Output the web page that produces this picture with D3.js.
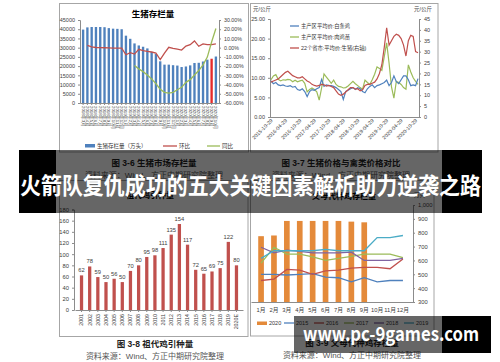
<!doctype html>
<html>
<head>
<meta charset="utf-8">
<style>
  body { margin: 0; background: #fff; }
  svg text { font-family: "Liberation Sans", "Noto Sans CJK SC", sans-serif; }
</style>
<script src="https://d3js.org/d3.v7.min.js"></script>
</head>
<body>
<svg width="500" height="362" id="chart"></svg>
<script>
// ---- 图3-6 生猪存栏量 ----
var stockMonths = ["2018年3月","2018年4月","2018年5月","2018年6月","2018年7月","2018年8月","2018年9月","2018年10月",
  "2018年11月","2018年12月","2019年1月","2019年2月","2019年3月","2019年4月","2019年5月","2019年6月","2019年7月",
  "2019年8月","2019年9月","2019年10月","2019年11月","2019年12月","2020年1月","2020年2月","2020年3月","2020年4月",
  "2020年5月","2020年6月","2020年7月","2020年8月","2020年9月","2020年10月"];
var stockValues = [39800,41000,41200,41200,41200,41100,40600,40300,40200,40000,36500,34800,32300,31200,30500,29600,
  27700,26600,22600,20800,20800,20500,20300,19500,19800,20400,21700,21800,22500,23500,24000,25200];
var stockMoM = [null,2.5,0.8,0.2,0,-0.1,-0.3,-0.4,-0.6,-0.5,-7.7,-5.5,-7,-1.8,-3.3,-4,-4.7,-5.8,-13,-6,0.4,-0.7,
  -1.5,-2.6,1.8,3.3,7.3,1.5,4,3.3,3.3,4];
var stockYoY = [null,null,null,null,null,null,null,null,null,null,null,null,-19.3,-23,-26,-29.6,-34,-39,-45,-48.5,
  -49.3,-48.5,-45.6,-43,-37.6,-34.7,-29.6,-24.8,-18.6,-10.2,6.2,20.8];
var stockTicks = [0,5000,10000,15000,20000,25000,30000,35000,40000,45000];
var pctTicks = [-60,-50,-40,-30,-20,-10,0,10,20,30];

// ---- 图3-7 生猪价格与禽类价格对比 ----
var priceMonths = ["2015-10","2015-11","2015-12",
  "2016-01","2016-02","2016-03","2016-04","2016-05","2016-06","2016-07","2016-08","2016-09","2016-10","2016-11","2016-12",
  "2017-01","2017-02","2017-03","2017-04","2017-05","2017-06","2017-07","2017-08","2017-09","2017-10","2017-11","2017-12",
  "2018-01","2018-02","2018-03","2018-04","2018-05","2018-06","2018-07","2018-08","2018-09","2018-10","2018-11","2018-12",
  "2019-01","2019-02","2019-03","2019-04","2019-05","2019-06","2019-07","2019-08","2019-09","2019-10","2019-11","2019-12",
  "2020-01","2020-02","2020-03","2020-04","2020-05","2020-06","2020-07","2020-08","2020-09","2020-10","2020-11"];
var chickenPrice = [9.2,8.5,8.8,8.2,8.0,8.2,7.9,7.8,8.0,7.6,7.8,7.0,6.8,7.2,6.5,5.2,6.5,7.0,6.8,7.2,7.5,9.6,7.8,8.2,
  8.0,8.0,7.8,7.5,7.0,6.5,4.5,6.5,6.8,7.2,7.5,7.0,7.5,7.2,6.5,6.2,7.2,7.8,8.2,7.5,8.0,8.2,8.5,8.8,9.4,8.0,8.8,10.5,
  9.0,8.5,9.5,10.5,10.5,9.5,8.0,8.2,8.0,9.8];
var chickPrice = [9.5,10.5,10.8,9.6,9.2,9.5,9.4,9.6,9.5,9.0,9.4,9.0,9.2,9.4,8.6,6.4,7.0,7.4,7.0,6.4,4.3,7.4,11.0,10.2,
  9.4,8.6,9.4,8.3,7.8,7.7,7.4,7.5,7.9,8.5,9.1,8.5,8.0,7.5,7.1,9.4,8.8,8.3,9.5,10.9,12.8,12.4,11.9,15.4,18.9,13.7,
  7.7,4.8,9.1,8.8,8.3,7.5,7.1,13.3,11.5,10.0,9.1,8.3];
var hogPrice = [16,16.5,17,17.5,18.5,19.5,20.5,21,20,19,18.5,18,18,18.5,17.5,16.5,16,15,14.5,14.2,14.5,15,14.8,14.2,
  14.5,14,13.5,12,10.5,10,10.5,11.5,12.5,13.5,13.5,12.8,13,12,12.5,14.5,15,15,15.5,16,17.5,20,24,32,41,33,35,37,38,
  37.5,36,33,28,35,37.5,37,30,29.5];
var priceTicks = ["2015-10-29","2016-04-29","2016-10-29","2017-04-29","2017-10-29","2018-04-29","2018-10-29",
  "2019-04-29","2019-10-29","2020-04-29","2020-10-29"];
var leftPriceTicks = [0,5,10,15,20,25];
var rightPriceTicks = [0,5,10,15,20,25,30,35,40,45];
var priceSeries = ["主产区平均价:白条鸡","主产区平均价:肉鸡苗","22个省市:平均价:生猪(右轴)"];

// ---- 图3-8 祖代鸡引种量 ----
var gpYears = ["2001","2002","2003","2004","2005","2006","2007","2008","2009","2010","2011","2012","2013","2014",
  "2015","2016","2017","2018","2019","2020E"];
var gpValues = [62,78,59,50,56,50,70,80,95,98,111,135,154,117,72,65,69,75,122,80];
var gpTicks = [0,20,40,60,80,100,120,140,160,180];

// ---- 图3-9 父母代种鸡存栏量 ----
var months = ["1月","2月","3月","4月","5月","6月","7月","8月","9月","10月","11月","12月"];
var stock2020 = [775,780,885,885,885,885,885,880,875];
var stock2015 = [500,500,495,500,505,480,475,445,475,445,455,455];
var stock2016 = [455,465,535,530,500,525,530,545,550,550,540,610];
var stock2017 = [580,695,645,645,625,600,615,630,645,645,645,620];
var stock2018 = [695,655,675,665,655,655,655,660,600,600,600,615];
var stock2019 = [615,670,670,670,670,680,670,670,670,765,765,780];
var parentTicks = [300,400,500,600,700,800,900,1000];

var blue = "#4f81bd", red = "#c0504d", green = "#9bbb59", purple = "#8064a2", teal = "#4bacc6", orange = "#e48a3a";
var svg = d3.select("#chart");
svg.append("rect").attr("width", 500).attr("height", 362).attr("fill", "#fff");

function styleAxis(a, fs) {
  a.attr("font-size", fs).attr("font-family", "Liberation Sans, Noto Sans CJK SC");
  a.select(".domain").attr("stroke", "#8c8c8c");
  a.selectAll(".tick line").attr("stroke", "#8c8c8c");
  a.selectAll(".tick text").attr("fill", "#404040");
}

function caption(x, y, title) {
  svg.append("text").attr("x", x).attr("y", y).attr("text-anchor", "middle")
    .attr("font-size", "8.5px").attr("font-weight", "bold").attr("fill", "#222").text(title);
  svg.append("text").attr("x", x).attr("y", y + 12).attr("text-anchor", "middle")
    .attr("font-size", "8px").attr("fill", "#555").text("资料来源：Wind、方正中期研究院整理");
}

// ================= chart 1 =================
var g1 = svg.append("g");
g1.append("rect").attr("x", 59.5).attr("y", 3.5).attr("width", 189).attr("height", 148.5)
  .attr("fill", "#fff").attr("stroke", "#a6a6a6");
g1.append("text").attr("x", 153).attr("y", 17).attr("text-anchor", "middle")
  .attr("font-size", "8.5px").attr("font-weight", "bold").text("生猪存栏量");

var x1 = d3.scaleBand().domain(stockMonths).range([80, 219]).padding(0.45);
var y1 = d3.scaleLinear().domain([0, 45000]).range([103, 20]);
var y1r = d3.scaleLinear().domain([-60, 30]).range([103, 20]);

g1.append("g").attr("transform", "translate(80,0)")
  .call(d3.axisLeft(y1).tickValues(stockTicks).tickSize(2).tickFormat(d3.format("d")))
  .call(styleAxis, 5.5);
g1.append("g").attr("transform", "translate(219,0)")
  .call(d3.axisRight(y1r).tickValues(pctTicks).tickSize(2).tickFormat(function(d) { return d.toFixed(2) + "%"; }))
  .call(styleAxis, 5.3);
var xa1 = g1.append("g").attr("transform", "translate(0,103)")
  .call(d3.axisBottom(x1).tickSize(2).tickSizeOuter(0))
  .call(styleAxis, 4.3);
xa1.selectAll(".tick text").attr("transform", "rotate(90)").attr("text-anchor", "start")
  .attr("x", 3).attr("y", 0).attr("dy", "0.35em");

g1.selectAll(".bar1").data(stockValues).enter().append("rect")
  .attr("x", function(d, i) { return x1(stockMonths[i]); })
  .attr("width", x1.bandwidth())
  .attr("y", function(d) { return y1(d); })
  .attr("height", function(d) { return y1(0) - y1(d); })
  .attr("fill", function(d, i) { return i === 30 ? "#e52b2b" : blue; });

var line1 = d3.line().defined(function(d) { return d !== null; })
  .x(function(d, i) { return x1(stockMonths[i]) + x1.bandwidth() / 2; })
  .y(function(d) { return y1r(d); });
g1.append("path").datum(stockMoM).attr("d", line1).attr("fill", "none").attr("stroke", red).attr("stroke-width", 1.3);
g1.append("path").datum(stockYoY).attr("d", line1).attr("fill", "none").attr("stroke", green).attr("stroke-width", 1.3);

// legend
g1.append("rect").attr("x", 85).attr("y", 144).attr("width", 10).attr("height", 3.5).attr("fill", blue);
g1.append("text").attr("x", 97).attr("y", 148).attr("font-size", "5.5px").attr("fill", "#333").text("生猪存栏量（万头）");
g1.append("line").attr("x1", 163).attr("x2", 177).attr("y1", 146).attr("y2", 146).attr("stroke", red).attr("stroke-width", 1.3);
g1.append("text").attr("x", 179).attr("y", 148).attr("font-size", "5.5px").attr("fill", "#333").text("环比");
g1.append("line").attr("x1", 207).attr("x2", 220).attr("y1", 146).attr("y2", 146).attr("stroke", green).attr("stroke-width", 1.3);
g1.append("text").attr("x", 222).attr("y", 148).attr("font-size", "5.5px").attr("fill", "#333").text("同比");
caption(154, 166, "图 3-6  生猪市场存栏量");

// ================= chart 2 =================
var g2 = svg.append("g");
g2.append("rect").attr("x", 250.5).attr("y", 3.5).attr("width", 187.5).attr("height", 148.5)
  .attr("fill", "#fff").attr("stroke", "#a6a6a6");
var x2 = d3.scaleLinear().domain([0, priceMonths.length - 1]).range([271, 418]);
var y2 = d3.scaleLinear().domain([0, 25]).range([117, 19]);
var y2r = d3.scaleLinear().domain([0, 45]).range([117, 19]);

g2.append("g").attr("transform", "translate(270,0)")
  .call(d3.axisLeft(y2).tickValues(leftPriceTicks).tickSize(2).tickFormat(function(d) { return d.toFixed(2); }))
  .call(styleAxis, 5.5);
g2.append("g").attr("transform", "translate(419,0)")
  .call(d3.axisRight(y2r).tickValues(rightPriceTicks).tickSize(2).tickFormat(d3.format("d")))
  .call(styleAxis, 5.5);
g2.append("line").attr("x1", 270).attr("x2", 419).attr("y1", 117.5).attr("y2", 117.5).attr("stroke", "#8c8c8c");
g2.selectAll(".xl2").data(priceTicks).enter().append("text")
  .attr("transform", function(d, i) { return "translate(" + (x2(i * 6) + 2) + ",121) rotate(-45)"; })
  .attr("text-anchor", "end").attr("font-size", "5.2px").attr("fill", "#404040").text(function(d) { return d; });
g2.append("text").attr("x", 253).attr("y", 11).attr("font-size", "5.5px").attr("fill", "#404040").text("元/公斤");
g2.append("text").attr("x", 414).attr("y", 11).attr("font-size", "5.5px").attr("fill", "#404040").text("元/公斤");

function line2(scale) {
  return d3.line().x(function(d, i) { return x2(i); }).y(function(d) { return scale(d); });
}
g2.append("path").datum(chickPrice).attr("d", line2(y2)).attr("fill", "none").attr("stroke", green).attr("stroke-width", 1.2);
g2.append("path").datum(chickenPrice).attr("d", line2(y2)).attr("fill", "none").attr("stroke", blue).attr("stroke-width", 1.2);
g2.append("path").datum(hogPrice).attr("d", line2(y2r)).attr("fill", "none").attr("stroke", red).attr("stroke-width", 1.2);

var legendColors2 = [blue, green, red];
priceSeries.forEach(function(s, i) {
  var ly = [26, 37, 48][i];
  g2.append("line").attr("x1", 290).attr("x2", 299).attr("y1", ly).attr("y2", ly)
    .attr("stroke", legendColors2[i]).attr("stroke-width", 1.3);
  g2.append("text").attr("x", 301).attr("y", ly + 2).attr("font-size", "5.3px").attr("fill", "#333").text(s);
});
caption(341, 166, "图 3-7  生猪价格与禽类价格对比");

// ================= chart 3 =================
var g3 = svg.append("g");
g3.append("rect").attr("x", 59.5).attr("y", 180.5).attr("width", 188.5).attr("height", 156)
  .attr("fill", "#fff").attr("stroke", "#a6a6a6");
g3.append("text").attr("x", 150).attr("y", 198).attr("text-anchor", "middle")
  .attr("font-size", "8px").attr("font-weight", "bold").text("祖代鸡引种量");
var x3 = d3.scaleBand().domain(gpYears).range([75, 243]).padding(0.6);
var y3 = d3.scaleLinear().domain([0, 180]).range([310, 209.5]);
g3.append("g").attr("transform", "translate(74,0)")
  .call(d3.axisLeft(y3).tickValues(gpTicks).tickSize(2))
  .call(styleAxis, 5.8);
var xa3 = g3.append("g").attr("transform", "translate(0,310)")
  .call(d3.axisBottom(x3).tickSize(2).tickSizeOuter(0))
  .call(styleAxis, 5.3);
xa3.selectAll(".tick text").attr("transform", "rotate(-90)").attr("text-anchor", "end")
  .attr("x", -4).attr("y", 0).attr("dy", "0.35em");
g3.selectAll(".bar3").data(gpValues).enter().append("rect")
  .attr("x", function(d, i) { return x3(gpYears[i]); })
  .attr("width", x3.bandwidth())
  .attr("y", function(d) { return y3(d); })
  .attr("height", function(d) { return y3(0) - y3(d); })
  .attr("fill", red);
g3.selectAll(".lab3").data(gpValues).enter().append("text")
  .attr("x", function(d, i) { return x3(gpYears[i]) + x3.bandwidth() / 2; })
  .attr("y", function(d) { return y3(d) - 3; })
  .attr("text-anchor", "middle").attr("font-size", "5.8px").attr("fill", "#404040")
  .text(function(d) { return d; });
caption(155, 347, "图 3-8  祖代鸡引种量");

// ================= chart 4 =================
var g4 = svg.append("g");
g4.append("rect").attr("x", 250.5).attr("y", 180.5).attr("width", 183.5).attr("height", 155.5)
  .attr("fill", "#fff").attr("stroke", "#a6a6a6");
g4.append("text").attr("x", 344).attr("y", 199).attr("text-anchor", "middle")
  .attr("font-size", "8px").attr("font-weight", "bold").text("父母代种鸡存栏量");
g4.append("text").attr("x", 414).attr("y", 197).attr("font-size", "5.5px").attr("fill", "#404040").text("万只");
var x4 = d3.scaleBand().domain(months).range([251, 413]).padding(0.56);
var x4c = function(i) { return x4(months[i]) + x4.bandwidth() / 2; };
var y4 = d3.scaleLinear().domain([300, 1000]).range([302, 205]);
g4.append("g").attr("transform", "translate(413,0)")
  .call(d3.axisRight(y4).tickValues(parentTicks).tickSize(2))
  .call(styleAxis, 5.8);
var xa4 = g4.append("g").attr("transform", "translate(0,302)")
  .call(d3.axisBottom(x4).tickSize(0).tickSizeOuter(0))
  .call(styleAxis, 5.8);
xa4.selectAll(".tick text").attr("y", 6);
g4.selectAll(".bar4").data(stock2020).enter().append("rect")
  .attr("x", function(d, i) { return x4(months[i]); })
  .attr("width", x4.bandwidth())
  .attr("y", function(d) { return y4(d); })
  .attr("height", function(d) { return y4(300) - y4(d); })
  .attr("fill", orange);
var line4 = d3.line().x(function(d, i) { return x4c(i); }).y(function(d) { return y4(d); });
var parentSeries = [
  {name: "2015", values: stock2015, color: blue},
  {name: "2016", values: stock2016, color: red},
  {name: "2017", values: stock2017, color: green},
  {name: "2018", values: stock2018, color: purple},
  {name: "2019", values: stock2019, color: teal}
];
parentSeries.forEach(function(s) {
  g4.append("path").datum(s.values).attr("d", line4).attr("fill", "none")
    .attr("stroke", s.color).attr("stroke-width", 1.3);
});
// legend
g4.append("rect").attr("x", 257).attr("y", 321.5).attr("width", 10).attr("height", 3.5).attr("fill", orange);
g4.append("text").attr("x", 269).attr("y", 325).attr("font-size", "5.5px").attr("fill", "#333").text("2020");
parentSeries.forEach(function(s, i) {
  var lx = 284 + i * 30;
  g4.append("line").attr("x1", lx).attr("x2", lx + 10).attr("y1", 323).attr("y2", 323)
    .attr("stroke", s.color).attr("stroke-width", 1.3);
  g4.append("text").attr("x", lx + 12).attr("y", 325).attr("font-size", "5.5px").attr("fill", "#333").text(s.name);
});
caption(352, 346, "图 3-9  父母代种鸡存栏量");

// ================= overlays =================
svg.append("rect").attr("x", 19).attr("y", 150).attr("width", 37).attr("height", 63).attr("fill", "#000");
svg.append("rect").attr("x", 442).attr("y", 150).attr("width", 40).attr("height", 63).attr("fill", "#000");
svg.append("rect").attr("x", 56).attr("y", 150).attr("width", 386).attr("height", 63).attr("fill", "rgba(0,0,0,0.6)");
svg.append("text").attr("x", 20).attr("y", 194).attr("font-size", "23px").attr("font-weight", "bold")
  .attr("fill", "#fff").attr("textLength", 461).attr("lengthAdjust", "spacingAndGlyphs")
  .style("font-family", "Noto Sans CJK SC")
  .text("火箭队复仇成功的五大关键因素解析助力逆袭之路");

svg.append("rect").attr("x", 294).attr("y", 316).attr("width", 148).attr("height", 37).attr("fill", "rgba(0,0,0,0.6)");
svg.append("rect").attr("x", 442).attr("y", 316).attr("width", 49).attr("height", 37).attr("fill", "#000");
svg.append("text").attr("x", 303).attr("y", 341).attr("font-size", "19px").attr("font-weight", "bold")
  .attr("fill", "#fff").attr("textLength", 176).attr("lengthAdjust", "spacingAndGlyphs")
  .style("font-family", "Noto Sans CJK SC")
  .text("www.pc-9games.com");
</script>
</body>
</html>
